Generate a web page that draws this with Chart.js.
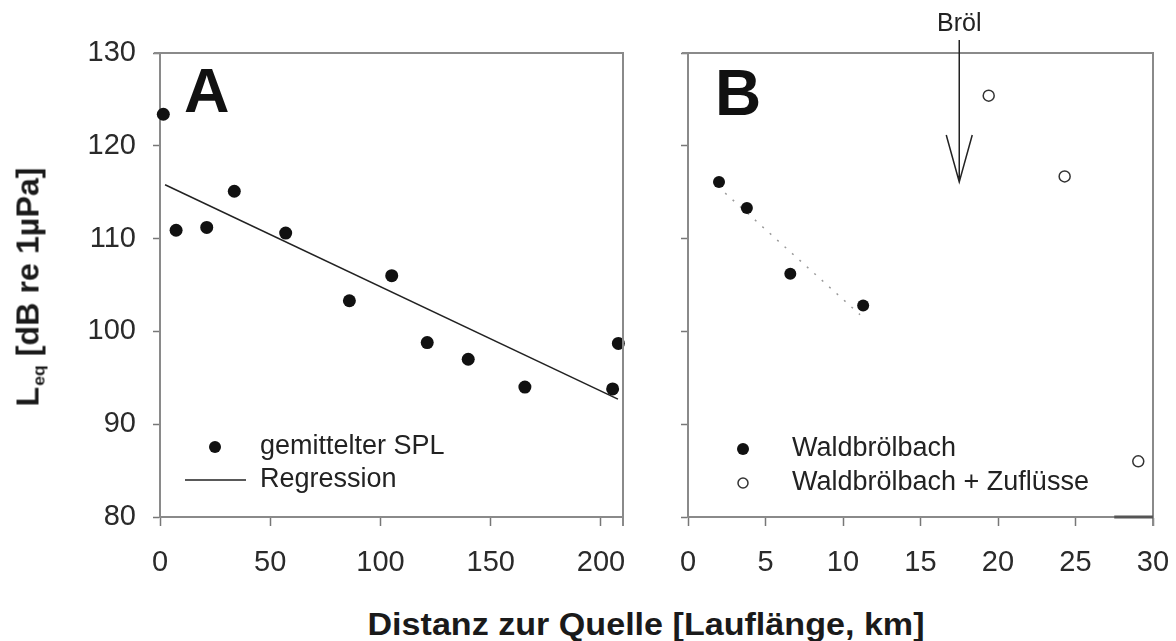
<!DOCTYPE html>
<html lang="de">
<head>
    <meta charset="UTF-8">
    <title>Leq vs. Distanz</title>
    <script src="https://cdn.jsdelivr.net/npm/chart.js@4.4.1/dist/chart.umd.min.js"></script>
    <style>
        body { margin: 0; background: #fff; }
        #wrap { position: relative; width: 1176px; height: 641px; overflow: hidden; background: #fff;
                font-family: 'Liberation Sans', Arial, sans-serif; color: #1a1a1a; }
        canvas { position: absolute; top: 0; }
        #chartA { left: 0; }
        #chartB { left: 620px; }
        .ytitle { position: absolute; left: 30px; top: 287px; transform: translate(-50%, -50%) rotate(-90deg) scaleX(1.04);
                  font-weight: bold; font-size: 31px; white-space: nowrap; }
        .ytitle sub { font-size: 17px; vertical-align: -6px; margin-left: 1px; }
        .xtitle { position: absolute; left: 646px; top: 625px; transform: translate(-50%, -50%) scaleX(1.1);
                  font-weight: bold; font-size: 31px; white-space: nowrap; }
    </style>
</head>
<body>
<div id="wrap">
    <canvas id="chartA" width="650" height="600"></canvas>
    <canvas id="chartB" width="556" height="600"></canvas>
    <div class="ytitle">L<sub>eq</sub> [dB re 1µPa]</div>
    <div class="xtitle">Distanz zur Quelle [Lauflänge, km]</div>
</div>

<script>
    // Panel A - gemittelter SPL entlang des Flusses
    const distA = [1.5, 7.3, 21.2, 33.7, 57, 85.9, 105.1, 121.2, 139.8, 165.5, 205.3, 207.9];
    const splA = [123.4, 110.9, 111.2, 115.1, 110.6, 103.3, 106.0, 98.8, 97.0, 94.0, 93.8, 98.7];
    const regX = [2.3, 207.7];
    const regY = [115.8, 92.7];
    const xTicksA = [0, 50, 100, 150, 200];

    // Panel B - Waldbrölbach
    const distB = [2.0, 3.8, 6.6, 11.3];
    const splB = [116.1, 113.3, 106.2, 102.8];
    const regBX = [2.4, 11.1];
    const regBY = [114.9, 101.8];
    const distB2 = [19.4, 24.3, 29.05];
    const splB2 = [125.4, 116.7, 86.0];
    const xTicksB = [0, 5, 10, 15, 20, 25, 30];
    const brolX = 17.5;
    const brolTip = 116.1;
    const segStart = 27.5;

    const yTicks = [80, 90, 100, 110, 120, 130];

    const FONT = "'Liberation Sans', Arial, sans-serif";
    Chart.defaults.font.family = FONT;
    Chart.defaults.color = '#2a2a2a';

    const pts = (xs, ys) => xs.map((x, i) => ({ x: x, y: ys[i] }));

    function axes(xMax, xTicks, yWidth, showYLabels) {
        return {
            x: {
                type: 'linear', min: 0, max: xMax,
                afterBuildTicks: s => { s.ticks = xTicks.map(v => ({ value: v })); },
                afterFit: s => { s.height = 83; s.paddingLeft = 0; s.paddingRight = 0; },
                border: { display: true, color: '#8a8a8a', width: 2 },
                grid: { drawOnChartArea: false, tickLength: 9, tickColor: '#777', tickWidth: 1.5 },
                ticks: { font: { size: 29 }, padding: 20, maxRotation: 0 }
            },
            y: {
                type: 'linear', min: 80, max: 130,
                afterBuildTicks: s => { s.ticks = yTicks.map(v => ({ value: v })); },
                afterFit: s => { s.width = yWidth; s.paddingTop = 0; s.paddingBottom = 0; },
                border: { display: true, color: '#8a8a8a', width: 2 },
                grid: { drawOnChartArea: false, tickLength: 7, tickColor: '#777', tickWidth: 1.5 },
                ticks: { font: { size: 29 }, padding: 17, callback: v => showYLabels ? v : '' }
            }
        };
    }

    // frame, panel letter, legend, arrow
    const extras = {
        id: 'extras',
        afterDatasetsDraw(chart, args, o) {
            const ctx = chart.ctx;
            const a = chart.chartArea;
            ctx.save();
            ctx.strokeStyle = '#8a8a8a';
            ctx.lineWidth = 2;
            ctx.beginPath();
            ctx.moveTo(a.left - 6, a.top);
            ctx.lineTo(a.right, a.top);
            ctx.lineTo(a.right, a.bottom + 9);
            ctx.stroke();

            if (o.segment) {
                ctx.strokeStyle = '#555';
                ctx.lineWidth = 3;
                ctx.beginPath();
                ctx.moveTo(chart.scales.x.getPixelForValue(segStart), a.bottom);
                ctx.lineTo(a.right, a.bottom);
                ctx.stroke();
            }

            ctx.fillStyle = '#111';
            ctx.font = 'bold ' + o.letterSize + 'px ' + FONT;
            ctx.textBaseline = 'alphabetic';
            ctx.fillText(o.letter, a.left + o.letterDx, a.top + o.letterDy);

            ctx.font = '27px ' + FONT;
            ctx.textBaseline = 'middle';
            o.legend.forEach(it => {
                const mx = a.left + 55;
                ctx.fillStyle = '#111';
                if (it.kind === 'dot') {
                    ctx.beginPath(); ctx.arc(mx, it.y, 6, 0, Math.PI * 2); ctx.fill();
                } else if (it.kind === 'open') {
                    ctx.beginPath(); ctx.arc(mx, it.y, 5, 0, Math.PI * 2);
                    ctx.fillStyle = '#fff'; ctx.fill();
                    ctx.strokeStyle = '#333'; ctx.lineWidth = 1.5; ctx.stroke();
                } else {
                    ctx.strokeStyle = '#222'; ctx.lineWidth = 1.5;
                    ctx.beginPath(); ctx.moveTo(a.left + 25, it.y); ctx.lineTo(a.left + 86, it.y); ctx.stroke();
                }
                ctx.fillStyle = '#222';
                ctx.fillText(it.text, a.left + o.textDx, it.y);
            });

            if (o.arrow) {
                const x = chart.scales.x.getPixelForValue(brolX);
                const tip = chart.scales.y.getPixelForValue(brolTip);
                ctx.strokeStyle = '#222';
                ctx.lineWidth = 1.5;
                ctx.beginPath();
                ctx.moveTo(x, 40); ctx.lineTo(x, tip);
                ctx.moveTo(x - 13, tip - 47); ctx.lineTo(x, tip); ctx.lineTo(x + 13, tip - 47);
                ctx.stroke();
                ctx.fillStyle = '#222';
                ctx.font = '25px ' + FONT;
                ctx.textAlign = 'center';
                ctx.fillText('Bröl', x, 24);
            }
            ctx.restore();
        }
    };

    new Chart(document.getElementById('chartA'), {
        type: 'scatter',
        data: {
            datasets: [
                { label: 'gemittelter SPL', data: pts(distA, splA), pointRadius: 6.5, pointBackgroundColor: '#111',
                  pointBorderWidth: 0, clip: false },
                { label: 'Regression', data: pts(regX, regY), showLine: true, pointRadius: 0,
                  borderColor: '#222', borderWidth: 1.5 }
            ]
        },
        options: {
            responsive: false, animation: false,
            layout: { padding: { top: 53, right: 27, bottom: 0, left: 0 } },
            scales: axes(210, xTicksA, 160, true),
            plugins: {
                legend: { display: false }, tooltip: { enabled: false },
                extras: {
                    letter: 'A', letterSize: 63, letterDx: 24, letterDy: 59, textDx: 100,
                    legend: [
                        { kind: 'dot', y: 447, text: 'gemittelter SPL' },
                        { kind: 'line', y: 480, text: 'Regression' }
                    ]
                }
            }
        },
        plugins: [extras]
    });

    new Chart(document.getElementById('chartB'), {
        type: 'scatter',
        data: {
            datasets: [
                { label: 'Waldbrölbach', data: pts(distB, splB), pointRadius: 6, pointBackgroundColor: '#111',
                  pointBorderWidth: 0, clip: false },
                { label: 'Trend', data: pts(regBX, regBY), showLine: true, pointRadius: 0,
                  borderColor: '#9a9a9a', borderWidth: 1.5, borderDash: [2, 8] },
                { label: 'Waldbrölbach + Zuflüsse', data: pts(distB2, splB2), pointRadius: 5.5,
                  pointBackgroundColor: '#fff', pointBorderColor: '#333', pointBorderWidth: 1.5, clip: false }
            ]
        },
        options: {
            responsive: false, animation: false,
            layout: { padding: { top: 53, right: 23, bottom: 0, left: 0 } },
            scales: axes(30, xTicksB, 68, false),
            plugins: {
                legend: { display: false }, tooltip: { enabled: false },
                extras: {
                    letter: 'B', letterSize: 64, letterDx: 27, letterDy: 62, textDx: 104, arrow: true, segment: true,
                    legend: [
                        { kind: 'dot', y: 449, text: 'Waldbrölbach' },
                        { kind: 'open', y: 483, text: 'Waldbrölbach + Zuflüsse' }
                    ]
                }
            }
        },
        plugins: [extras]
    });
</script>
</body>
</html>
